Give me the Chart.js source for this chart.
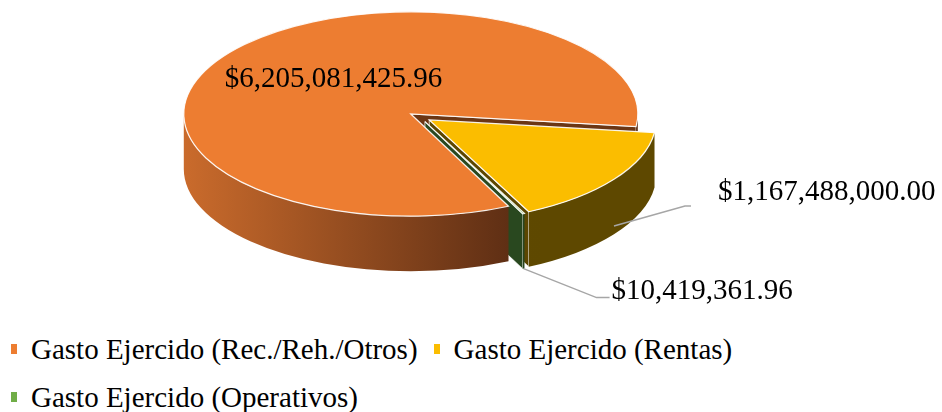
<!DOCTYPE html>
<html>
<head>
<meta charset="utf-8">
<script src="https://cdn.jsdelivr.net/npm/chart.js@4.4.0/dist/chart.umd.min.js"></script>
<style>
  html, body { margin: 0; background: #fff; }
  #wrap { position: relative; width: 942px; height: 412px; overflow: hidden; font-family: "Liberation Serif", "Times New Roman", serif; }
  #pie { position: absolute; left: 0; top: 0; }
  #legend { position: absolute; left: 11px; top: 325px; width: 931px; display: flex; flex-wrap: wrap; font-size: 29px; line-height: 48px; color: #000; }
  .item { display: flex; align-items: center; margin-right: 16px; white-space: nowrap; }
  .box { width: 6px; height: 10px; margin-right: 14px; }
</style>
</head>
<body>
<div id="wrap">
  <canvas id="pie" width="942" height="320"></canvas>
  <div id="legend"></div>
</div>
<script>
const categories = ["Gasto Ejercido (Rec./Reh./Otros)", "Gasto Ejercido (Rentas)", "Gasto Ejercido (Operativos)"];
const amounts = [6205081425.96, 1167488000.00, 10419361.96];

const sliceColors = ["#ED7D31", "#FBBD00", "#70AD47"];
const wallLight = ["#CA6B2C", "#645000", "#2C4B21"];
const wallDark = ["#5A2C13", "#5E4800", "#284520"];
const cutColors = ["#6B3614", "#5C4600", "#29481F"];

// look of the 3d disc
const RX = 227, TILT = 0.45, DEPTH = 55, EXPLODE = 0.05;

const money = new Intl.NumberFormat("en-US", { style: "currency", currency: "USD", minimumFractionDigits: 2 });

// where each value label goes, relative to its slice
const labelPlacement = [
  { inside: true, r: 0.42, dy: -10 },
  { depth: 0.85, dx: 71, dy: -20, len: 6, gap: 27, lift: -14 },
  { depth: 1, dx: 73, dy: 29, len: 13, gap: 2, lift: -6 }
];

function sliceGeometry(chart) {
  return chart.getDatasetMeta(0).data.map((arc, i) => {
    const p = arc.getProps(["x", "y", "startAngle", "endAngle", "outerRadius"], true);
    const ry = RX * TILT;
    const mid = (p.startAngle + p.endAngle) / 2;
    return {
      arc, i, x: p.x, y: p.y, a0: p.startAngle, a1: p.endAngle, mid,
      rx: RX, ry,
      kx: RX / p.outerRadius, ky: ry / p.outerRadius,
      cx: p.x + Math.cos(mid) * EXPLODE * RX,
      cy: p.y + Math.sin(mid) * EXPLODE * ry
    };
  });
}

const pie3d = {
  id: "pie3d",
  beforeDatasetsDraw(chart) {
    const ctx = chart.ctx;
    const geo = sliceGeometry(chart);

    // cut faces between slices, back ones first
    const faces = [];
    geo.forEach(g => {
      if (Math.cos(g.a0) < 0) faces.push({ g, a: g.a0 });
      if (Math.cos(g.a1) > 0) faces.push({ g, a: g.a1 });
    });
    faces.sort((f, h) => (f.g.cy + Math.sin(f.a) * f.g.ry / 2) - (h.g.cy + Math.sin(h.a) * h.g.ry / 2));
    faces.forEach(({ g, a }) => {
      const px = g.cx + Math.cos(a) * g.rx, py = g.cy + Math.sin(a) * g.ry;
      ctx.beginPath();
      ctx.moveTo(g.cx, g.cy);
      ctx.lineTo(px, py);
      ctx.lineTo(px, py + DEPTH);
      ctx.lineTo(g.cx, g.cy + DEPTH);
      ctx.closePath();
      ctx.fillStyle = cutColors[g.i];
      ctx.fill();
      ctx.strokeStyle = "rgba(255,255,255,0.75)";
      ctx.lineWidth = 1;
      ctx.stroke();
    });

    // outer walls, only the front half shows
    geo.forEach(g => {
      const grad = ctx.createLinearGradient(g.cx - g.rx, 0, g.cx + g.rx * 0.5, 0);
      grad.addColorStop(0, wallLight[g.i]);
      grad.addColorStop(1, wallDark[g.i]);
      for (let k = -1; k <= 2; k++) {
        const lo = Math.max(g.a0, 2 * Math.PI * k);
        const hi = Math.min(g.a1, 2 * Math.PI * k + Math.PI);
        if (lo >= hi) continue;
        ctx.beginPath();
        ctx.ellipse(g.cx, g.cy, g.rx, g.ry, 0, lo, hi, false);
        ctx.lineTo(g.cx + Math.cos(hi) * g.rx, g.cy + Math.sin(hi) * g.ry + DEPTH);
        ctx.ellipse(g.cx, g.cy + DEPTH, g.rx, g.ry, 0, hi, lo, true);
        ctx.closePath();
        ctx.fillStyle = grad;
        ctx.fill();
      }
    });

    // top faces: the arcs themselves, squashed into the tilted plane
    geo.forEach(g => {
      ctx.save();
      ctx.translate(g.cx, g.cy);
      ctx.scale(g.kx, g.ky);
      ctx.translate(-g.x, -g.y);
      g.arc.draw(ctx);
      ctx.restore();

      ctx.beginPath();
      ctx.moveTo(g.cx, g.cy);
      ctx.ellipse(g.cx, g.cy, g.rx, g.ry, 0, g.a0, g.a1, false);
      ctx.closePath();
      ctx.strokeStyle = "rgba(255,255,255,0.9)";
      ctx.lineWidth = 1.2;
      ctx.stroke();
    });
    return false;
  },
  afterDraw(chart) {
    const ctx = chart.ctx;
    const values = chart.data.datasets[0].data;
    ctx.save();
    ctx.font = "29px 'Liberation Serif'";
    ctx.fillStyle = "#000";
    sliceGeometry(chart).forEach(g => {
      const text = money.format(values[g.i]);
      const pl = labelPlacement[g.i];
      if (pl.inside) {
        ctx.textAlign = "center";
        ctx.textBaseline = "middle";
        ctx.fillText(text,
          g.cx + Math.cos(g.mid) * g.rx * pl.r,
          g.cy + Math.sin(g.mid) * g.ry * pl.r + pl.dy);
        return;
      }
      const ax = g.cx + Math.cos(g.mid) * g.rx;
      const ay = g.cy + Math.sin(g.mid) * g.ry + DEPTH * pl.depth;
      const ex = ax + pl.dx, ey = ay + pl.dy;
      ctx.beginPath();
      ctx.moveTo(ax, ay);
      ctx.lineTo(ex, ey);
      ctx.lineTo(ex + pl.len, ey);
      ctx.strokeStyle = "#A6A6A6";
      ctx.lineWidth = 1.5;
      ctx.stroke();
      ctx.textAlign = "left";
      ctx.textBaseline = "middle";
      ctx.fillText(text, ex + pl.len + pl.gap, ey + pl.lift);
    });
    ctx.restore();
  }
};

const chart = new Chart(document.getElementById("pie"), {
  type: "pie",
  data: {
    labels: categories,
    datasets: [{
      data: amounts,
      backgroundColor: sliceColors,
      borderWidth: 0
    }]
  },
  options: {
    responsive: false,
    animation: false,
    events: [],
    rotation: 154.5,
    layout: { padding: { left: 0, right: 102, top: 15, bottom: 101 } },
    plugins: {
      legend: { display: false },
      tooltip: { enabled: false }
    }
  },
  plugins: [pie3d]
});

// legend below the disc
const legendEl = document.getElementById("legend");
chart.data.labels.forEach((name, i) => {
  const item = document.createElement("div");
  item.className = "item";
  const box = document.createElement("span");
  box.className = "box";
  box.style.background = chart.data.datasets[0].backgroundColor[i];
  item.appendChild(box);
  item.appendChild(document.createTextNode(name));
  legendEl.appendChild(item);
});
</script>
</body>
</html>
